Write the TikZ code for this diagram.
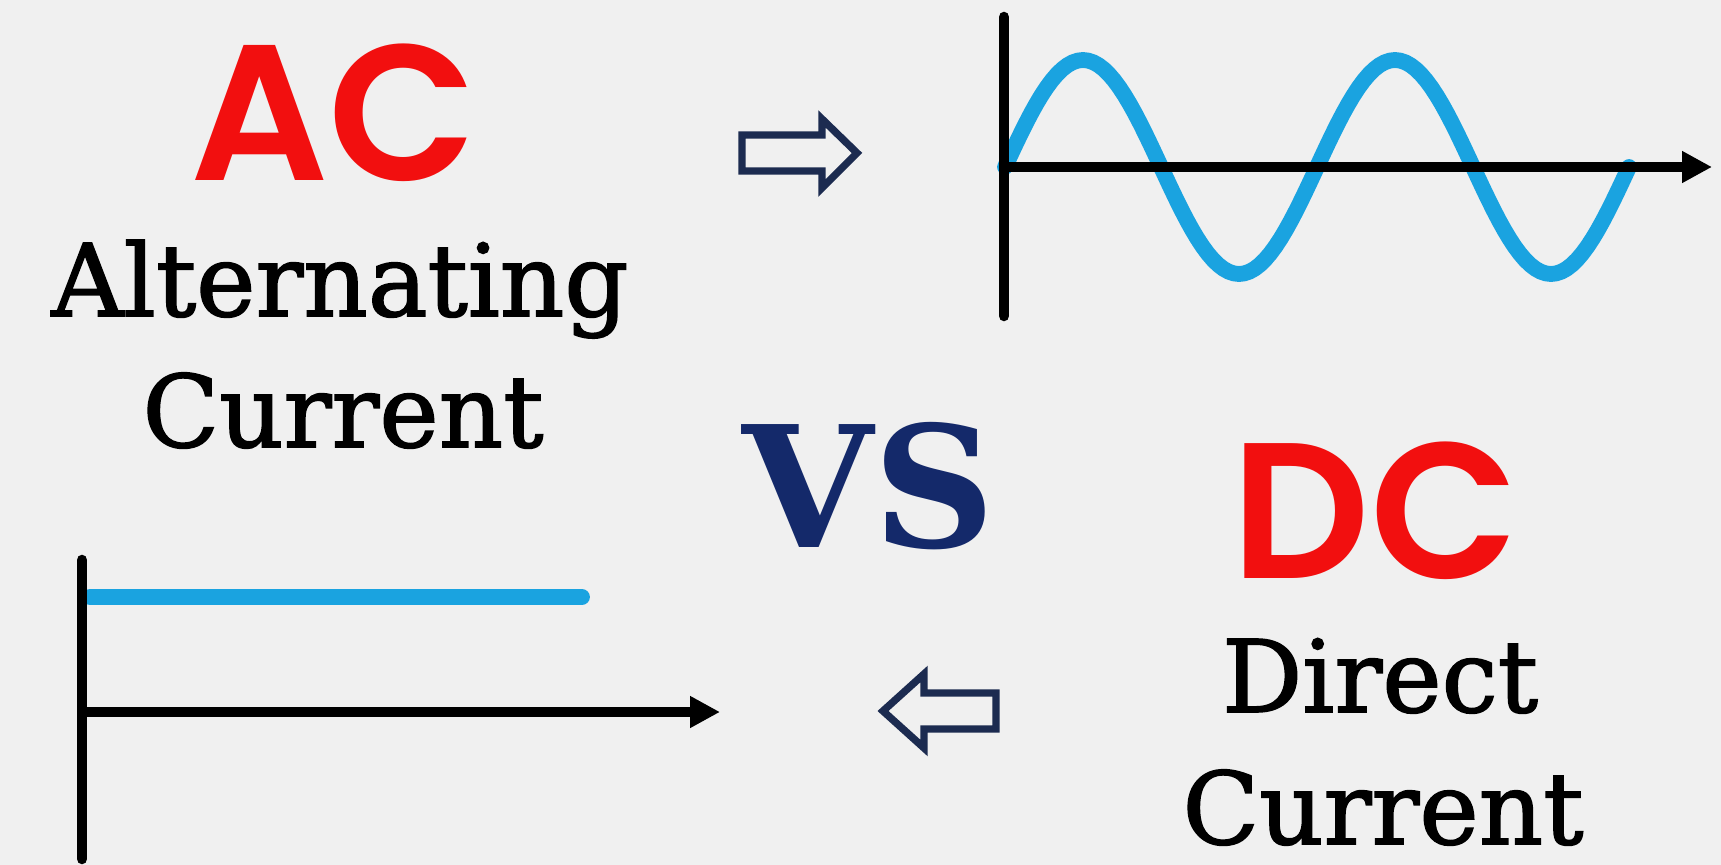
\documentclass[tikz,border=0pt]{standalone}
\usepackage{fontspec}
\setmainfont{DejaVu Serif}[FakeBold=1.6]
\newfontfamily\versusfont{DejaVu Serif}
\newfontfamily\geofont{Poppins SemiBold}
\usetikzlibrary{arrows.meta}
\definecolor{fbg}{HTML}{F0F0F0}
\definecolor{fred}{HTML}{F20F0F}
\definecolor{fnavy}{HTML}{14296A}
\definecolor{fline}{HTML}{1C2B50}
\definecolor{fwave}{HTML}{1AA3E0}

\tikzset{
  tag/.style={anchor=base, inner sep=0pt, text=fred,
    font=\geofont\fontsize{110}{110}\selectfont},
  words/.style={anchor=base, inner sep=0pt, text=black,
    font=\fontsize{57}{57}\selectfont},
  versus/.style={anchor=base, inner sep=0pt, text=fnavy,
    font=\versusfont\bfseries\fontsize{96}{96}\selectfont},
  axisline/.style={line width=6pt, line cap=round, black},
  axisarrow/.style={line width=6pt, black, -{Triangle[length=17pt,width=17pt]}},
  wave/.style={line width=9pt, fwave, line cap=round, line join=round},
  hollow/.style={line width=4.2pt, fline, line join=miter}
}

\begin{document}
\begin{tikzpicture}[x=0.02cm, y=-0.02cm]
\useasboundingbox (0,0) rectangle (1721,865);
\fill[fbg] (0,0) rectangle (1721,865);
% =================== titles ===================
\node[tag] (ac) at (334,180) {AC};
\node[words] (acword) at (340,316) {Alternating};
\node[words] (accur) at (343,447) {Current};
\node[versus] (vs) at (869,547) {VS};
\node[tag] (dc) at (1375,578) {DC};
\node[words] (dcword) at (1380,712) {Direct};
\node[words] (dccur) at (1383,844) {Current};
% =================== AC graph ===================
\coordinate (acO) at (1004,167);
\coordinate (acT) at (1004,17);
\coordinate (acB) at (1004,316);
\coordinate (acE) at (1712,167);
\draw[wave] plot[domain=0:720, samples=121] ({1005+0.8667*\x}, {167-107*sin(\x)});
\draw[axisline] (acT) -- (acB);
\draw[axisarrow] (acO) -- (acE);
% =================== DC graph ===================
\coordinate (dcO) at (82,712);
\coordinate (dcT) at (82,560);
\coordinate (dcB) at (82,859);
\coordinate (dcE) at (720,712);
\coordinate (dcS) at (90,597);
\coordinate (dcL) at (582,597);
\draw[wave] (dcS) -- (dcL);
\draw[axisline] (dcT) -- (dcB);
\draw[axisarrow] (dcO) -- (dcE);
% =================== hollow arrows ===================
\draw[hollow] (742,135) -- (822,135) -- (822,119) -- (857,153)
   -- (822,188) -- (822,171) -- (742,171) -- cycle;
\draw[hollow] (996,693) -- (924,693) -- (924,674) -- (883,711)
   -- (924,748) -- (924,729) -- (996,729) -- cycle;
\end{tikzpicture}
\end{document}
